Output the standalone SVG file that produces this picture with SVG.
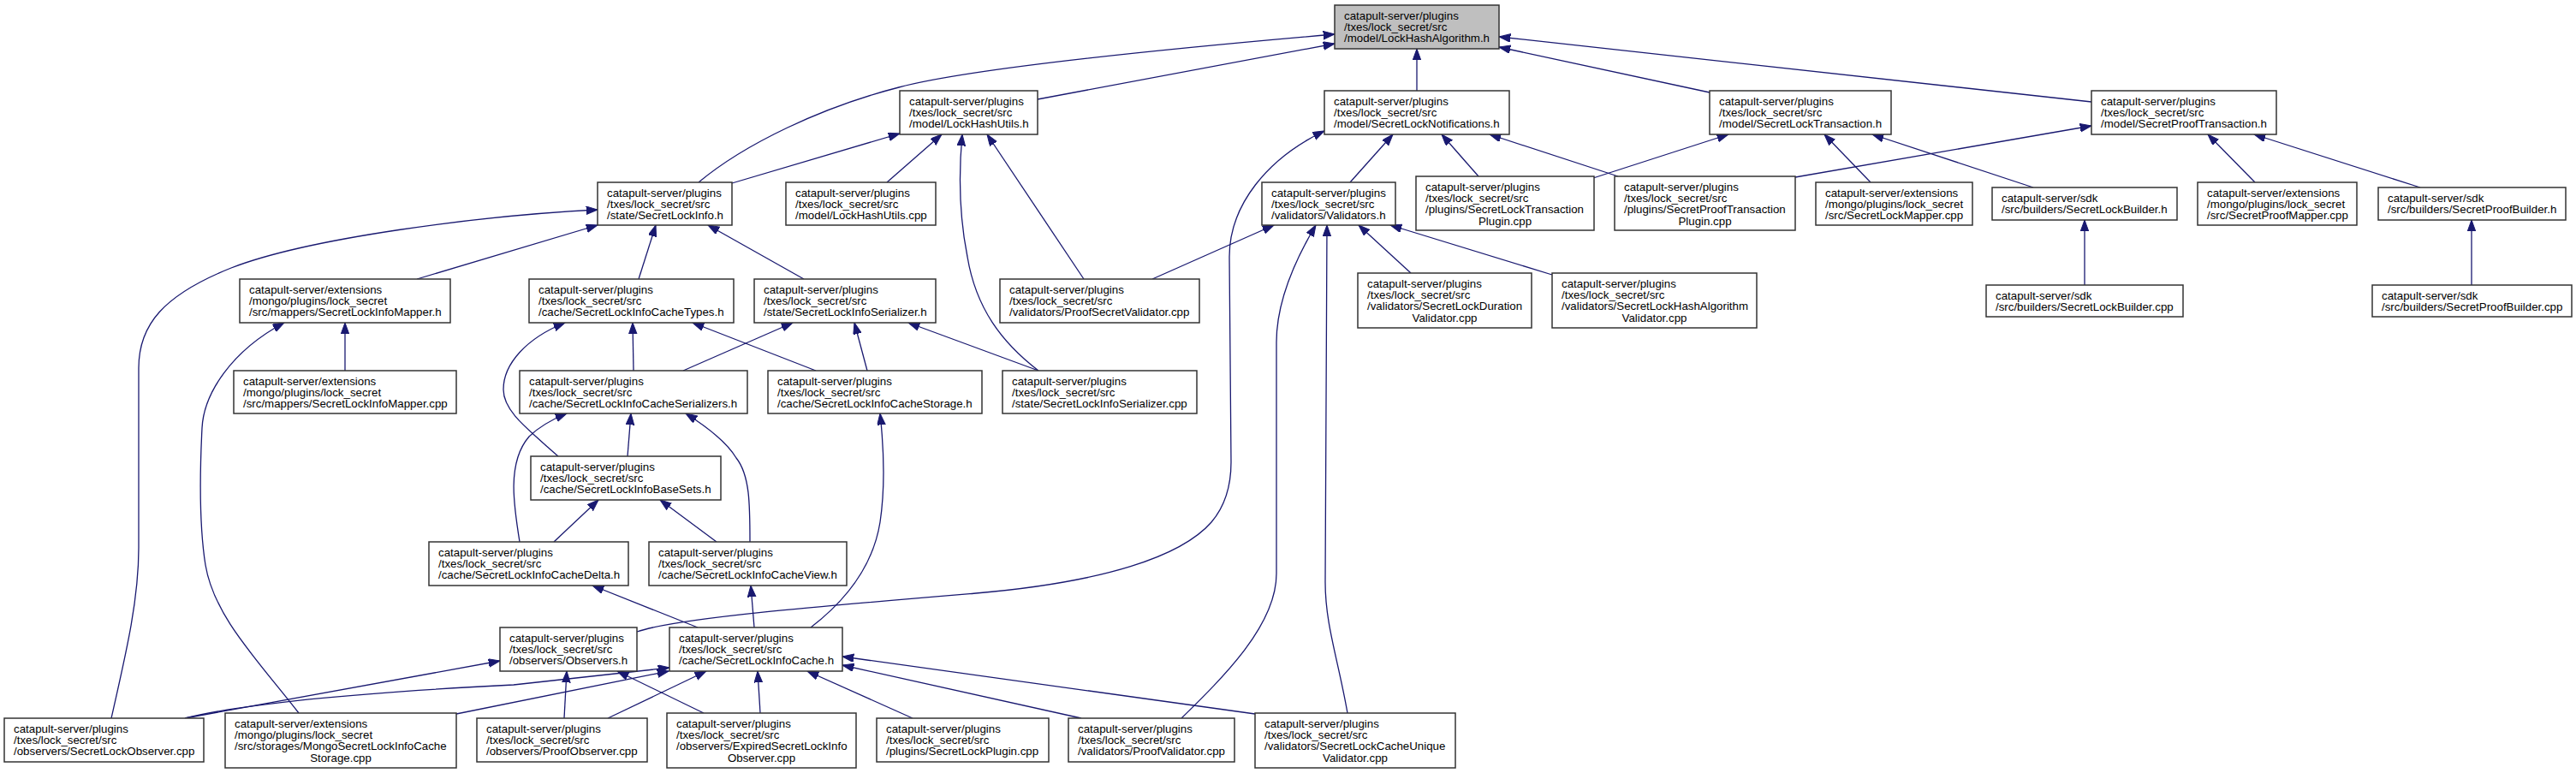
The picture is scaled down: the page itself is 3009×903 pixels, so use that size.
<svg xmlns="http://www.w3.org/2000/svg" width="3009" height="903" viewBox="0 0 3009 903">
<defs>
<style>
.node rect{fill:#ffffff;stroke:#333333;stroke-width:1.5}
.node.root rect{fill:#bfbfbf}
.node text{font-family:"Liberation Sans",Arial,Helvetica,sans-serif;font-size:13.3px;fill:#000000}
.node text.c{text-anchor:middle}
.edges path{fill:none;stroke:#191970;stroke-width:1.3}
</style>
<marker id="ah" markerUnits="userSpaceOnUse" markerWidth="15" markerHeight="11" refX="13.3" refY="4.8" orient="auto">
<path d="M0,0 L13.3,4.8 L0,9.6 z" fill="#191970" stroke="#191970" stroke-width="1"/>
</marker>
</defs>
<rect x="0" y="0" width="3009" height="903" fill="#ffffff"/>
<g class="edges" marker-end="url(#ah)">
<path d="M816,213 C870,168 960,125 1050,102 C1140,78 1420,52 1559,40" marker-end="url(#ah)"/>
<path d="M1212,116 L1559,51" marker-end="url(#ah)"/>
<path d="M1655,106 L1655,57" marker-end="url(#ah)"/>
<path d="M1997,108 L1751,55" marker-end="url(#ah)"/>
<path d="M2443,119 L1751,43" marker-end="url(#ah)"/>
<path d="M855,214 L1051,156" marker-end="url(#ah)"/>
<path d="M1036,213 L1100,157" marker-end="url(#ah)"/>
<path d="M1213,433 C1170,400 1140,360 1130,300 C1120,250 1120,200 1124,157" marker-end="url(#ah)"/>
<path d="M1266,326 L1153,157" marker-end="url(#ah)"/>
<path d="M130,839 C148,760 162,700 162,640 L162,430 C162,380 190,345 270,313 C360,278 560,252 698,245" marker-end="url(#ah)"/>
<path d="M487,326 L698,263" marker-end="url(#ah)"/>
<path d="M746,326 L766,263" marker-end="url(#ah)"/>
<path d="M939,326 L827,263" marker-end="url(#ah)"/>
<path d="M403,433 L403,377" marker-end="url(#ah)"/>
<path d="M349,833 C300,770 250,720 240,660 C232,610 234,540 236,500 C238,460 270,410 332,377" marker-end="url(#ah)"/>
<path d="M740,433 L739,377" marker-end="url(#ah)"/>
<path d="M652,533 C615,500 588,480 588,455 C588,425 615,395 660,377" marker-end="url(#ah)"/>
<path d="M953,433 L809,377" marker-end="url(#ah)"/>
<path d="M798,433 L926,377" marker-end="url(#ah)"/>
<path d="M1013,433 L998,377" marker-end="url(#ah)"/>
<path d="M1213,433 L1061,377" marker-end="url(#ah)"/>
<path d="M733,533 L737,483" marker-end="url(#ah)"/>
<path d="M607,633 C600,590 592,540 618,510 C630,498 645,490 662,483" marker-end="url(#ah)"/>
<path d="M876,633 C876,590 876,555 860,535 C848,515 820,495 801,483" marker-end="url(#ah)"/>
<path d="M647,633 L699,584" marker-end="url(#ah)"/>
<path d="M837,633 L771,584" marker-end="url(#ah)"/>
<path d="M947,733 C990,700 1020,660 1028,610 C1034,570 1032,520 1028,483" marker-end="url(#ah)"/>
<path d="M815,733 L692,684" marker-end="url(#ah)"/>
<path d="M881,733 L877,684" marker-end="url(#ah)"/>
<path d="M744,738 C790,722 960,708 1140,693 C1290,680 1380,650 1415,610 C1432,590 1438,565 1438,540 L1436,300 C1436,240 1480,185 1547,153" marker-end="url(#ah)"/>
<path d="M1577,213 L1627,157" marker-end="url(#ah)"/>
<path d="M1346,326 L1488,263" marker-end="url(#ah)"/>
<path d="M1648,319 L1587,263" marker-end="url(#ah)"/>
<path d="M1813,321 L1624,263" marker-end="url(#ah)"/>
<path d="M1380,839 C1430,790 1491,730 1491,670 L1491,400 C1491,350 1515,300 1537,263" marker-end="url(#ah)"/>
<path d="M1574,833 C1563,770 1548,730 1548,680 L1550,263" marker-end="url(#ah)"/>
<path d="M1727,206 L1684,157" marker-end="url(#ah)"/>
<path d="M1890,206 L1740,157" marker-end="url(#ah)"/>
<path d="M1861,208 L2019,157" marker-end="url(#ah)"/>
<path d="M2185,213 L2131,157" marker-end="url(#ah)"/>
<path d="M2375,219 L2187,157" marker-end="url(#ah)"/>
<path d="M2097,207 L2443,147" marker-end="url(#ah)"/>
<path d="M2634,213 L2579,157" marker-end="url(#ah)"/>
<path d="M2827,219 L2633,157" marker-end="url(#ah)"/>
<path d="M2435,333 L2435,257" marker-end="url(#ah)"/>
<path d="M2887,333 L2887,257" marker-end="url(#ah)"/>
<path d="M216,839 L584,772" marker-end="url(#ah)"/>
<path d="M216,839 C300,818 480,806 600,800 L782,780" marker-end="url(#ah)"/>
<path d="M533,834 L781,784" marker-end="url(#ah)"/>
<path d="M659,839 L662,784" marker-end="url(#ah)"/>
<path d="M710,839 L825,784" marker-end="url(#ah)"/>
<path d="M822,833 L721,784" marker-end="url(#ah)"/>
<path d="M888,833 L885,784" marker-end="url(#ah)"/>
<path d="M1066,839 L943,784" marker-end="url(#ah)"/>
<path d="M1263,839 L984,777" marker-end="url(#ah)"/>
<path d="M1466,834 L984,767" marker-end="url(#ah)"/>
</g>
<g id="n0" class="node root"><rect x="1559" y="6" width="192" height="51"/><text x="1570" y="22.7">catapult-server/plugins</text><text x="1570" y="36">/txes/lock_secret/src</text><text x="1570" y="49.3">/model/LockHashAlgorithm.h</text></g>
<g id="n1" class="node"><rect x="1051" y="106" width="161" height="51"/><text x="1062" y="122.7">catapult-server/plugins</text><text x="1062" y="136">/txes/lock_secret/src</text><text x="1062" y="149.3">/model/LockHashUtils.h</text></g>
<g id="n2" class="node"><rect x="1547" y="106" width="216" height="51"/><text x="1558" y="122.7">catapult-server/plugins</text><text x="1558" y="136">/txes/lock_secret/src</text><text x="1558" y="149.3">/model/SecretLockNotifications.h</text></g>
<g id="n3" class="node"><rect x="1997" y="106" width="212" height="51"/><text x="2008" y="122.7">catapult-server/plugins</text><text x="2008" y="136">/txes/lock_secret/src</text><text x="2008" y="149.3">/model/SecretLockTransaction.h</text></g>
<g id="n4" class="node"><rect x="2443" y="106" width="216" height="51"/><text x="2454" y="122.7">catapult-server/plugins</text><text x="2454" y="136">/txes/lock_secret/src</text><text x="2454" y="149.3">/model/SecretProofTransaction.h</text></g>
<g id="n5" class="node"><rect x="698" y="213" width="157" height="50"/><text x="709" y="229.7">catapult-server/plugins</text><text x="709" y="243">/txes/lock_secret/src</text><text x="709" y="256.3">/state/SecretLockInfo.h</text></g>
<g id="n6" class="node"><rect x="918" y="213" width="175" height="50"/><text x="929" y="229.7">catapult-server/plugins</text><text x="929" y="243">/txes/lock_secret/src</text><text x="929" y="256.3">/model/LockHashUtils.cpp</text></g>
<g id="n7" class="node"><rect x="1474" y="213" width="156" height="50"/><text x="1485" y="229.7">catapult-server/plugins</text><text x="1485" y="243">/txes/lock_secret/src</text><text x="1485" y="256.3">/validators/Validators.h</text></g>
<g id="n8" class="node"><rect x="1654" y="206" width="208" height="63"/><text x="1665" y="222.7">catapult-server/plugins</text><text x="1665" y="236">/txes/lock_secret/src</text><text x="1665" y="249.3">/plugins/SecretLockTransaction</text><text class="c" x="1758" y="262.6">Plugin.cpp</text></g>
<g id="n9" class="node"><rect x="1886" y="206" width="211" height="63"/><text x="1897" y="222.7">catapult-server/plugins</text><text x="1897" y="236">/txes/lock_secret/src</text><text x="1897" y="249.3">/plugins/SecretProofTransaction</text><text class="c" x="1991.5" y="262.6">Plugin.cpp</text></g>
<g id="n10" class="node"><rect x="2121" y="213" width="183" height="50"/><text x="2132" y="229.7">catapult-server/extensions</text><text x="2132" y="243">/mongo/plugins/lock_secret</text><text x="2132" y="256.3">/src/SecretLockMapper.cpp</text></g>
<g id="n11" class="node"><rect x="2327" y="219" width="216" height="38"/><text x="2338" y="235.7">catapult-server/sdk</text><text x="2338" y="249">/src/builders/SecretLockBuilder.h</text></g>
<g id="n12" class="node"><rect x="2567" y="213" width="186" height="50"/><text x="2578" y="229.7">catapult-server/extensions</text><text x="2578" y="243">/mongo/plugins/lock_secret</text><text x="2578" y="256.3">/src/SecretProofMapper.cpp</text></g>
<g id="n13" class="node"><rect x="2778" y="219" width="219" height="38"/><text x="2789" y="235.7">catapult-server/sdk</text><text x="2789" y="249">/src/builders/SecretProofBuilder.h</text></g>
<g id="n14" class="node"><rect x="280" y="326" width="246" height="51"/><text x="291" y="342.7">catapult-server/extensions</text><text x="291" y="356">/mongo/plugins/lock_secret</text><text x="291" y="369.3">/src/mappers/SecretLockInfoMapper.h</text></g>
<g id="n15" class="node"><rect x="618" y="326" width="239" height="51"/><text x="629" y="342.7">catapult-server/plugins</text><text x="629" y="356">/txes/lock_secret/src</text><text x="629" y="369.3">/cache/SecretLockInfoCacheTypes.h</text></g>
<g id="n16" class="node"><rect x="881" y="326" width="212" height="51"/><text x="892" y="342.7">catapult-server/plugins</text><text x="892" y="356">/txes/lock_secret/src</text><text x="892" y="369.3">/state/SecretLockInfoSerializer.h</text></g>
<g id="n17" class="node"><rect x="1168" y="326" width="233" height="51"/><text x="1179" y="342.7">catapult-server/plugins</text><text x="1179" y="356">/txes/lock_secret/src</text><text x="1179" y="369.3">/validators/ProofSecretValidator.cpp</text></g>
<g id="n18" class="node"><rect x="1586" y="319" width="203" height="64"/><text x="1597" y="335.7">catapult-server/plugins</text><text x="1597" y="349">/txes/lock_secret/src</text><text x="1597" y="362.3">/validators/SecretLockDuration</text><text class="c" x="1687.5" y="375.6">Validator.cpp</text></g>
<g id="n19" class="node"><rect x="1813" y="319" width="239" height="64"/><text x="1824" y="335.7">catapult-server/plugins</text><text x="1824" y="349">/txes/lock_secret/src</text><text x="1824" y="362.3">/validators/SecretLockHashAlgorithm</text><text class="c" x="1932.5" y="375.6">Validator.cpp</text></g>
<g id="n20" class="node"><rect x="2320" y="333" width="230" height="37"/><text x="2331" y="349.7">catapult-server/sdk</text><text x="2331" y="363">/src/builders/SecretLockBuilder.cpp</text></g>
<g id="n21" class="node"><rect x="2771" y="333" width="233" height="37"/><text x="2782" y="349.7">catapult-server/sdk</text><text x="2782" y="363">/src/builders/SecretProofBuilder.cpp</text></g>
<g id="n22" class="node"><rect x="273" y="433" width="260" height="50"/><text x="284" y="449.7">catapult-server/extensions</text><text x="284" y="463">/mongo/plugins/lock_secret</text><text x="284" y="476.3">/src/mappers/SecretLockInfoMapper.cpp</text></g>
<g id="n23" class="node"><rect x="607" y="433" width="266" height="50"/><text x="618" y="449.7">catapult-server/plugins</text><text x="618" y="463">/txes/lock_secret/src</text><text x="618" y="476.3">/cache/SecretLockInfoCacheSerializers.h</text></g>
<g id="n24" class="node"><rect x="897" y="433" width="250" height="50"/><text x="908" y="449.7">catapult-server/plugins</text><text x="908" y="463">/txes/lock_secret/src</text><text x="908" y="476.3">/cache/SecretLockInfoCacheStorage.h</text></g>
<g id="n25" class="node"><rect x="1171" y="433" width="227" height="50"/><text x="1182" y="449.7">catapult-server/plugins</text><text x="1182" y="463">/txes/lock_secret/src</text><text x="1182" y="476.3">/state/SecretLockInfoSerializer.cpp</text></g>
<g id="n26" class="node"><rect x="620" y="533" width="222" height="51"/><text x="631" y="549.7">catapult-server/plugins</text><text x="631" y="563">/txes/lock_secret/src</text><text x="631" y="576.3">/cache/SecretLockInfoBaseSets.h</text></g>
<g id="n27" class="node"><rect x="501" y="633" width="233" height="51"/><text x="512" y="649.7">catapult-server/plugins</text><text x="512" y="663">/txes/lock_secret/src</text><text x="512" y="676.3">/cache/SecretLockInfoCacheDelta.h</text></g>
<g id="n28" class="node"><rect x="758" y="633" width="231" height="51"/><text x="769" y="649.7">catapult-server/plugins</text><text x="769" y="663">/txes/lock_secret/src</text><text x="769" y="676.3">/cache/SecretLockInfoCacheView.h</text></g>
<g id="n29" class="node"><rect x="584" y="733" width="160" height="51"/><text x="595" y="749.7">catapult-server/plugins</text><text x="595" y="763">/txes/lock_secret/src</text><text x="595" y="776.3">/observers/Observers.h</text></g>
<g id="n30" class="node"><rect x="782" y="733" width="202" height="51"/><text x="793" y="749.7">catapult-server/plugins</text><text x="793" y="763">/txes/lock_secret/src</text><text x="793" y="776.3">/cache/SecretLockInfoCache.h</text></g>
<g id="n31" class="node"><rect x="5" y="839" width="233" height="51"/><text x="16" y="855.7">catapult-server/plugins</text><text x="16" y="869">/txes/lock_secret/src</text><text x="16" y="882.3">/observers/SecretLockObserver.cpp</text></g>
<g id="n32" class="node"><rect x="263" y="833" width="270" height="64"/><text x="274" y="849.7">catapult-server/extensions</text><text x="274" y="863">/mongo/plugins/lock_secret</text><text x="274" y="876.3">/src/storages/MongoSecretLockInfoCache</text><text class="c" x="398" y="889.6">Storage.cpp</text></g>
<g id="n33" class="node"><rect x="557" y="839" width="199" height="51"/><text x="568" y="855.7">catapult-server/plugins</text><text x="568" y="869">/txes/lock_secret/src</text><text x="568" y="882.3">/observers/ProofObserver.cpp</text></g>
<g id="n34" class="node"><rect x="779" y="833" width="221" height="64"/><text x="790" y="849.7">catapult-server/plugins</text><text x="790" y="863">/txes/lock_secret/src</text><text x="790" y="876.3">/observers/ExpiredSecretLockInfo</text><text class="c" x="889.5" y="889.6">Observer.cpp</text></g>
<g id="n35" class="node"><rect x="1024" y="839" width="201" height="51"/><text x="1035" y="855.7">catapult-server/plugins</text><text x="1035" y="869">/txes/lock_secret/src</text><text x="1035" y="882.3">/plugins/SecretLockPlugin.cpp</text></g>
<g id="n36" class="node"><rect x="1248" y="839" width="194" height="51"/><text x="1259" y="855.7">catapult-server/plugins</text><text x="1259" y="869">/txes/lock_secret/src</text><text x="1259" y="882.3">/validators/ProofValidator.cpp</text></g>
<g id="n37" class="node"><rect x="1466" y="833" width="234" height="64"/><text x="1477" y="849.7">catapult-server/plugins</text><text x="1477" y="863">/txes/lock_secret/src</text><text x="1477" y="876.3">/validators/SecretLockCacheUnique</text><text class="c" x="1583" y="889.6">Validator.cpp</text></g>
</svg>
